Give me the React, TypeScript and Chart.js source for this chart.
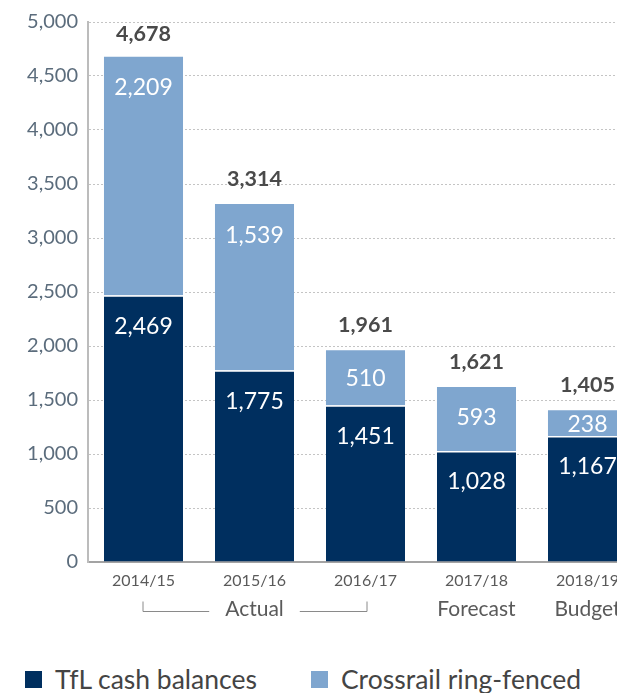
import React, { useEffect, useRef } from "react";
import { Chart, registerables } from "chart.js";

Chart.register(...registerables);

const categories = ["2014/15", "2015/16", "2016/17", "2017/18", "2018/19"];
const tflCash = [2469, 1775, 1451, 1028, 1167];
const crossrail = [2209, 1539, 510, 593, 238];
const yTicks = [0, 500, 1000, 1500, 2000, 2500, 3000, 3500, 4000, 4500, 5000];
const subLabels = ["Actual", "Forecast", "Budget"];
const legendLabels = ["TfL cash balances", "Crossrail ring-fenced"];

const DARK = "#002f5f";
const LIGHT = "#7fa6cf";
const FONT = "Lato, 'Open Sans', sans-serif";

const fmt = (v: number) => v.toLocaleString("en-US");

const labelPlugin = {
  id: "barLabels",
  afterDatasetsDraw(chart: any) {
    const ctx = chart.ctx;
    ctx.save();
    ctx.textAlign = "center";
    chart.data.datasets.forEach((ds: any, di: number) => {
      const meta = chart.getDatasetMeta(di);
      meta.data.forEach((bar: any, i: number) => {
        const h = bar.base - bar.y;
        ctx.fillStyle = "#ffffff";
        ctx.font = `400 23px ${FONT}`;
        ctx.textBaseline = "middle";
        ctx.fillText(fmt(ds.data[i]), bar.x, bar.y + Math.min(30, h / 2) + 1);
      });
    });
    const topMeta = chart.getDatasetMeta(chart.data.datasets.length - 1);
    topMeta.data.forEach((bar: any, i: number) => {
      const total = tflCash[i] + crossrail[i];
      ctx.fillStyle = "#4a4a4a";
      ctx.font = `700 21.5px ${FONT}`;
      ctx.textBaseline = "alphabetic";
      ctx.fillText(fmt(total), bar.x, Math.max(bar.y - 18, 41));
    });
    ctx.restore();
  },
};

const bracketPlugin = {
  id: "bracket",
  afterDraw(chart: any) {
    const ctx = chart.ctx;
    const xs = chart.scales.x;
    const c = categories.map((_, i) => xs.getPixelForValue(i));
    const yText = 609;
    const yLine = 611.5;
    ctx.save();
    ctx.font = `400 21px ${FONT}`;
    ctx.fillStyle = "#5a5a5a";
    ctx.textAlign = "center";
    ctx.textBaseline = "middle";
    ctx.fillText(subLabels[0], c[1], yText);
    ctx.fillText(subLabels[1], c[3], yText);
    ctx.fillText(subLabels[2], c[4], yText);
    const w = ctx.measureText(subLabels[0]).width;
    ctx.strokeStyle = "#8a8a8a";
    ctx.lineWidth = 1;
    ctx.beginPath();
    ctx.moveTo(c[0] - 0.5, 601.5);
    ctx.lineTo(c[0] - 0.5, yLine);
    ctx.lineTo(c[1] - w / 2 - 16, yLine);
    ctx.moveTo(c[1] + w / 2 + 16, yLine);
    ctx.lineTo(c[2] + 1.5, yLine);
    ctx.lineTo(c[2] + 1.5, 601.5);
    ctx.stroke();
    ctx.restore();
  },
};

export default function App() {
  const ref = useRef<HTMLCanvasElement>(null);
  useEffect(() => {
    if (!ref.current) return;
    const chart = new Chart(ref.current, {
      type: "bar",
      data: {
        labels: categories,
        datasets: [
          {
            label: legendLabels[0],
            data: tflCash,
            backgroundColor: DARK,
            borderColor: "#ffffff",
            borderWidth: { top: 1.5, left: 0, right: 0, bottom: 0 },
            borderSkipped: false,
            barPercentage: 1,
            categoryPercentage: 0.712,
          },
          {
            label: legendLabels[1],
            data: crossrail,
            backgroundColor: LIGHT,
            borderWidth: 0,
            barPercentage: 1,
            categoryPercentage: 0.712,
          },
        ],
      },
      options: {
        responsive: false,
        animation: false,
        layout: { padding: { top: 16, right: 37, left: 0, bottom: 0 } },
        plugins: { legend: { display: false }, tooltip: { enabled: false } },
        scales: {
          x: {
            stacked: true,
            grid: { display: false, drawTicks: false },
            border: { color: "#a3a3a3", width: 2 },
            ticks: { color: "#5a5a5a", font: { family: FONT, size: 16 }, padding: 9 },
            afterFit: (s: any) => {
              s.height = 78;
            },
          },
          y: {
            stacked: true,
            min: 0,
            max: 5000,
            afterBuildTicks: (s: any) => {
              s.ticks = yTicks.map((v) => ({ value: v }));
            },
            ticks: {
              color: "#5b6c7c",
              font: { family: FONT, size: 20 },
              padding: 10,
              callback: (v: any) => fmt(Number(v)),
            },
            grid: { color: "#c4c4c4", lineWidth: 1, drawTicks: false },
            border: { color: "#bcbcbc", width: 2, dash: [2, 2] },
            afterFit: (s: any) => {
              s.width = 88;
            },
          },
        },
      },
      plugins: [labelPlugin, bracketPlugin],
    });
    return () => chart.destroy();
  }, []);

  const legendItem = (left: number, color: string, text: string) => (
    <div
      style={{
        position: "absolute",
        left,
        top: 664,
        height: 30,
        display: "flex",
        alignItems: "center",
        whiteSpace: "nowrap",
      }}
    >
      <div style={{ width: 17, height: 17, background: color, marginRight: 13 }} />
      <span style={{ fontFamily: FONT, fontSize: 26.5, color: "#444444", lineHeight: "30px" }}>{text}</span>
    </div>
  );

  return (
    <div
      style={{
        position: "absolute",
        left: 0,
        top: 0,
        width: 617,
        height: 693,
        overflow: "hidden",
        background: "#ffffff",
      }}
    >
      <canvas ref={ref} width={680} height={640} style={{ display: "block" }} />
      {legendItem(25, DARK, legendLabels[0])}
      {legendItem(311, LIGHT, legendLabels[1])}
    </div>
  );
}
